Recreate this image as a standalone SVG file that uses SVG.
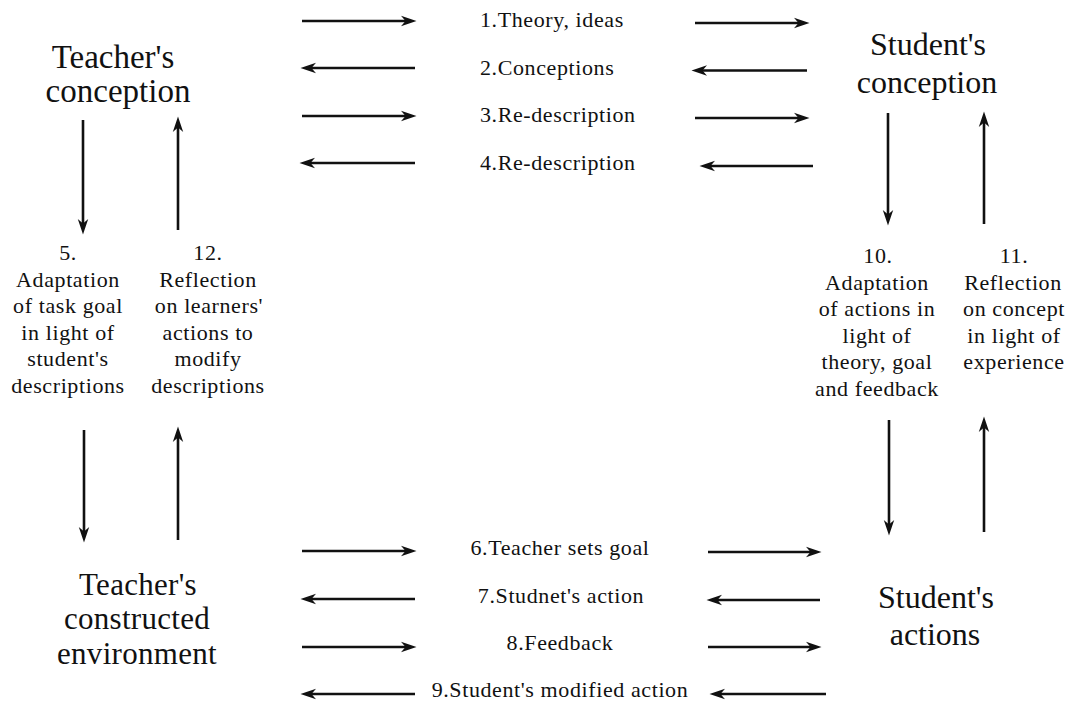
<svg xmlns="http://www.w3.org/2000/svg" width="1073" height="703" viewBox="0 0 1073 703">
<style>
.t{font-family:"Liberation Serif","Times New Roman",serif;fill:#111;text-anchor:middle}
.big{font-size:32px}
.env{font-size:31px;letter-spacing:0.3px}
.lab{font-size:22px;letter-spacing:0.6px}
.lft{text-anchor:start}
.c line{stroke:#111;stroke-width:2.6;marker-end:url(#ah)}
</style>
<defs>
<marker id="ah" markerUnits="userSpaceOnUse" viewBox="0 0 16 12" refX="9" refY="6" markerWidth="16" markerHeight="12" orient="auto">
<path d="M0,0.8 L15.5,6 L0,11.2 L4.5,6 Z" fill="#111"/>
</marker>
</defs>
<rect width="1073" height="703" fill="#fff"/>
<g id="connectors" class="c">
<line x1="302" y1="21" x2="410" y2="21"/>
<line x1="415" y1="68" x2="307" y2="68"/>
<line x1="302" y1="116" x2="410" y2="116"/>
<line x1="415" y1="163" x2="306" y2="163"/>
<line x1="695" y1="23" x2="803" y2="23"/>
<line x1="807" y1="70.5" x2="698" y2="70.5"/>
<line x1="695" y1="118" x2="803" y2="118"/>
<line x1="813" y1="166" x2="706" y2="166"/>
<line x1="302" y1="551" x2="410" y2="551"/>
<line x1="415" y1="599" x2="307" y2="599"/>
<line x1="302" y1="647" x2="410" y2="647"/>
<line x1="415" y1="694" x2="307" y2="694"/>
<line x1="708" y1="552" x2="815" y2="552"/>
<line x1="820" y1="600" x2="713" y2="600"/>
<line x1="708" y1="647" x2="815" y2="647"/>
<line x1="826" y1="694" x2="716" y2="694"/>
<line x1="83" y1="120" x2="83" y2="228"/>
<line x1="178" y1="230" x2="178" y2="123"/>
<line x1="84" y1="430" x2="84" y2="536"/>
<line x1="178" y1="540" x2="178" y2="433"/>
<line x1="888" y1="113" x2="888" y2="219"/>
<line x1="984" y1="224" x2="984" y2="118"/>
<line x1="889" y1="420" x2="889" y2="529"/>
<line x1="984" y1="532" x2="984" y2="423"/>
</g>
<g id="teacher-conception">
<text class="t" x="113" y="68" font-size="33">Teacher's</text>
<text class="t" x="118" y="102" font-size="33">conception</text>
</g>
<g id="student-conception">
<text class="t big" x="928" y="55">Student's</text>
<text class="t big" x="927" y="93">conception</text>
</g>
<g id="teacher-environment">
<text class="t env" x="138" y="595">Teacher's</text>
<text class="t env" x="137" y="629">constructed</text>
<text class="t env" x="137" y="664">environment</text>
</g>
<g id="student-actions">
<text class="t big" x="936" y="608">Student's</text>
<text class="t big" x="935" y="645">actions</text>
</g>
<g id="labels-top">
<text class="t lab lft" x="480" y="27">1.Theory, ideas</text>
<text class="t lab lft" x="480" y="75">2.Conceptions</text>
<text class="t lab lft" x="480" y="122">3.Re-description</text>
<text class="t lab lft" x="480" y="170">4.Re-description</text>
</g>
<g id="labels-bottom">
<text class="t lab" x="560" y="555">6.Teacher sets goal</text>
<text class="t lab" x="561" y="603">7.Studnet's action</text>
<text class="t lab" x="560" y="650">8.Feedback</text>
<text class="t lab" x="560" y="697">9.Student's modified action</text>
</g>
<g id="step5">
<text class="t lab" x="68" y="260">5.</text>
<text class="t lab" x="68" y="287">Adaptation</text>
<text class="t lab" x="68" y="313">of task goal</text>
<text class="t lab" x="68" y="340">in light of</text>
<text class="t lab" x="68" y="366">student's</text>
<text class="t lab" x="68" y="393">descriptions</text>
</g>
<g id="step12">
<text class="t lab" x="208" y="260">12.</text>
<text class="t lab" x="208" y="287">Reflection</text>
<text class="t lab" x="209" y="313">on learners'</text>
<text class="t lab" x="208" y="340">actions to</text>
<text class="t lab" x="208" y="366">modify</text>
<text class="t lab" x="208" y="393">descriptions</text>
</g>
<g id="step10">
<text class="t lab" x="878" y="263">10.</text>
<text class="t lab" x="877" y="290">Adaptation</text>
<text class="t lab" x="877" y="316">of actions in</text>
<text class="t lab" x="877" y="343">light of</text>
<text class="t lab" x="877" y="369">theory, goal</text>
<text class="t lab" x="877" y="396">and feedback</text>
</g>
<g id="step11">
<text class="t lab" x="1014" y="263">11.</text>
<text class="t lab" x="1013" y="290">Reflection</text>
<text class="t lab" x="1014" y="316">on concept</text>
<text class="t lab" x="1014" y="343">in light of</text>
<text class="t lab" x="1014" y="369">experience</text>
</g>
</svg>
